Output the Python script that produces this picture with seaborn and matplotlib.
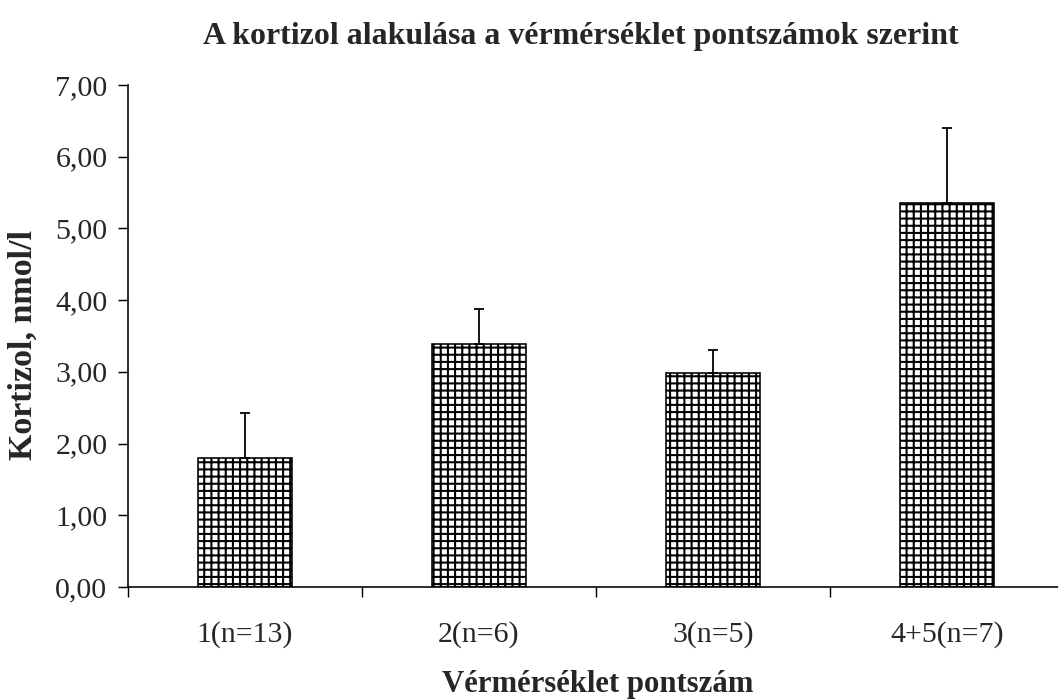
import numpy as np
import pandas as pd
import matplotlib
matplotlib.use('Agg')
import matplotlib.pyplot as plt
import seaborn as sns

# data
categories = ['1(n=13)', '2(n=6)', '3(n=5)', '4+5(n=7)']
cortisol = [1.80, 3.39, 2.98, 5.35]
cortisol_err = [0.62, 0.48, 0.32, 1.05]
yticks = [0, 1, 2, 3, 4, 5, 6, 7]

sns.set_theme(style='white')
plt.rcParams['font.family'] = ['Liberation Serif', 'DejaVu Serif']
plt.rcParams['hatch.linewidth'] = 1.15
plt.rcParams['hatch.color'] = 'black'

DPI = 129
W, H = 1058, 700
fig = plt.figure(figsize=(W / DPI, H / DPI), dpi=DPI)
ax = fig.add_axes([128 / W, 113 / H, 936 / W, 502 / H])

df = pd.DataFrame({'group': categories, 'value': cortisol})
sns.barplot(data=df, x='group', y='value', color='white', edgecolor='black',
            linewidth=0.9, width=0.4, hatch='+++', errorbar=None, ax=ax)
for p in ax.patches:
    p.set_facecolor('white')

# only the upper half of the error bars is drawn
ax.errorbar(np.arange(len(categories)), cortisol,
            yerr=[np.zeros(len(cortisol)), cortisol_err],
            fmt='none', ecolor='black', elinewidth=1.0, capsize=2.6, capthick=1.0)

ax.set_xlim(-0.5, len(categories) - 0.5)
ax.set_ylim(0, 7)
ax.set_yticks(yticks)
ax.set_yticklabels([f'{v:.2f}'.replace('.', ',') for v in yticks])
ax.set_xticks(np.arange(len(categories)))
ax.set_xticklabels(categories)
ax.set_xticks(np.arange(len(categories) + 1) - 0.5, minor=True)

ax.tick_params(axis='y', which='major', direction='out', length=5.5, width=0.8,
               color='black', labelsize=16.7, pad=6, left=True)
ax.tick_params(axis='x', which='major', length=0, labelsize=16.7, pad=19)
ax.tick_params(axis='x', which='minor', direction='out', length=5.5, width=0.8,
               color='black', bottom=True)

for side in ['top', 'right']:
    ax.spines[side].set_visible(False)
for side in ['left', 'bottom']:
    ax.spines[side].set_color('black')
    ax.spines[side].set_linewidth(0.9)

ax.set_xlabel('')
ax.set_ylabel('')
fig.text(598 / W, 1 - 692 / H, 'Vérmérséklet pontszám',
         ha='center', va='baseline', fontsize=17.2, fontweight='bold')
fig.text(23 / W, 1 - 345 / H, 'Kortizol, nmol/l', rotation=90,
         ha='center', va='center', fontsize=19, fontweight='bold')
fig.text(581 / W, 1 - 44 / H, 'A kortizol alakulása a vérmérséklet pontszámok szerint',
         ha='center', va='baseline', fontsize=17.8, fontweight='bold')

fig.savefig('out.png', dpi=DPI, facecolor='white')
